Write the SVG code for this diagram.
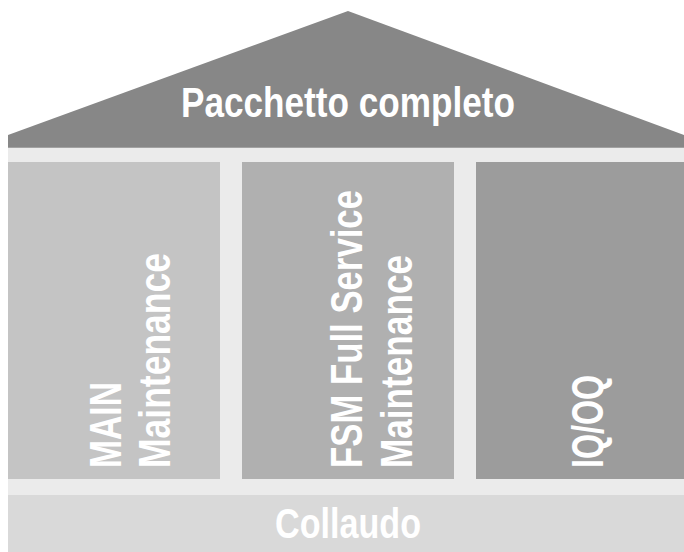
<svg xmlns="http://www.w3.org/2000/svg" width="684" height="552" viewBox="0 0 684 552">
  <style>
    .lbl { font-family: "Liberation Sans", Arial, sans-serif; font-weight: bold; fill: #ffffff; }
    .vt { font-size: 44px; }
  </style>
  <rect x="0" y="0" width="684" height="552" fill="#ffffff"/>
  <g id="band">
    <rect x="8" y="147" width="676" height="348" fill="#ebebeb"/>
  </g>
  <g id="roof">
    <polygon points="8,135 348,11 684,135 684,147 8,147" fill="#878787"/>
    <rect x="8" y="147" width="676" height="1" fill="#a2a2a2"/>
    <text class="lbl" x="181" y="117" font-size="43" textLength="334" lengthAdjust="spacingAndGlyphs">Pacchetto completo</text>
  </g>
  <g id="main">
    <rect x="8" y="162" width="212" height="317" fill="#c4c4c4"/>
    <text class="lbl vt" transform="translate(121,468) rotate(-90)" textLength="86" lengthAdjust="spacingAndGlyphs">MAIN</text>
    <text class="lbl vt" transform="translate(170,468) rotate(-90)" textLength="215" lengthAdjust="spacingAndGlyphs">Maintenance</text>
  </g>
  <g id="fsm">
    <rect x="242" y="162" width="212" height="317" fill="#b0b0b0"/>
    <text class="lbl vt" transform="translate(362,468) rotate(-90)" textLength="278" lengthAdjust="spacingAndGlyphs">FSM Full Service</text>
    <text class="lbl vt" transform="translate(412,468) rotate(-90)" textLength="213" lengthAdjust="spacingAndGlyphs">Maintenance</text>
  </g>
  <g id="iqoq">
    <rect x="476" y="162" width="208" height="317" fill="#9c9c9c"/>
    <text class="lbl vt" transform="translate(603,468) rotate(-90)" textLength="93" lengthAdjust="spacingAndGlyphs">IQ/OQ</text>
  </g>
  <g id="collaudo">
    <rect x="8" y="495" width="676" height="57" fill="#d9d9d9"/>
    <text class="lbl" x="275" y="538" font-size="42" textLength="146" lengthAdjust="spacingAndGlyphs">Collaudo</text>
  </g>
</svg>
